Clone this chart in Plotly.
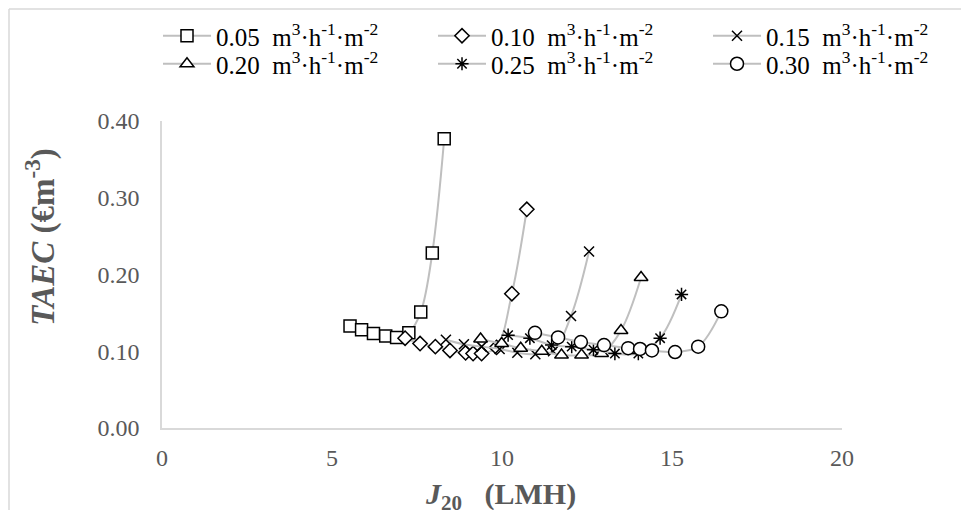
import plotly.graph_objects as go

# Data (J20 in LMH, TAEC in EUR/m3)
labels = ["0.05", "0.10", "0.15", "0.20", "0.25", "0.30"]

j_005 = [5.53, 5.87, 6.22, 6.58, 6.90, 7.26, 7.61, 7.95, 8.30]
taec_005 = [0.133, 0.128, 0.123, 0.120, 0.118, 0.124, 0.151, 0.228, 0.377]

j_010 = [7.15, 7.59, 8.04, 8.47, 8.93, 9.15, 9.40, 9.84, 10.29, 10.73]
taec_010 = [0.117, 0.110, 0.106, 0.101, 0.098, 0.097, 0.097, 0.105, 0.175, 0.285]

j_015 = [8.35, 8.88, 9.40, 9.93, 10.45, 10.98, 11.50, 12.03, 12.56]
taec_015 = [0.115, 0.109, 0.106, 0.103, 0.098, 0.096, 0.100, 0.146, 0.230]

j_020 = [9.37, 9.99, 10.55, 11.17, 11.75, 12.34, 12.93, 13.50, 14.09]
taec_020 = [0.116, 0.110, 0.104, 0.100, 0.095, 0.095, 0.097, 0.127, 0.196]

j_025 = [10.18, 10.82, 11.46, 12.05, 12.69, 13.32, 14.01, 14.65, 15.28]
taec_025 = [0.121, 0.117, 0.108, 0.106, 0.102, 0.097, 0.097, 0.117, 0.174]

j_030 = [10.97, 11.65, 12.32, 13.00, 13.71, 14.06, 14.41, 15.09, 15.77, 16.45]
taec_030 = [0.124, 0.118, 0.112, 0.108, 0.104, 0.103, 0.101, 0.099, 0.106, 0.152]

series = [
    (j_005, taec_005, labels[0], "square", 12, "white", "legend"),
    (j_010, taec_010, labels[1], "diamond", 11, "white", "legend"),
    (j_015, taec_015, labels[2], "x-thin-open", 10, "black", "legend"),
    (j_020, taec_020, labels[3], "triangle-up", 12, "white", "legend2"),
    (j_025, taec_025, labels[4], "asterisk-open", 11, "black", "legend2"),
    (j_030, taec_030, labels[5], "circle", 13, "white", "legend2"),
]

FONT = "Liberation Serif, Times New Roman, serif"
unit = "m<sup>3</sup>·h<sup>-1</sup>·m<sup>-2</sup>"
NB = "\u00a0"

fig = go.Figure()
for xs, ys, lab, sym, size, fill, leg in series:
    fig.add_trace(go.Scatter(
        x=xs, y=ys, mode="lines+markers",
        name=f"{lab}{NB}{NB}{unit}", legend=leg,
        line=dict(color="#bfbfbf", width=2, shape="spline", smoothing=1),
        marker=dict(symbol=sym, size=size, color=fill,
                    line=dict(color="black", width=1.5)),
    ))

# page is drawn with an 8px body offset; plot area in page pixels:
OFF = 8
PL, PR, PT, PB = 162, 842, 121, 428
W, H = 969, 510
L = PL - OFF
T = PT - OFF
R = W - (PR - OFF)
B = H - (PB - OFF)
pw, ph = PR - PL, PB - PT

def px(x):
    return (x - PL) / pw

def py(y):
    return (PB - y) / ph

legend_common = dict(
    orientation="h", xref="paper", yref="paper",
    xanchor="left", yanchor="middle",
    font=dict(family=FONT, size=25, color="black"),
    itemwidth=48, entrywidth=212, tracegroupgap=0,
    bgcolor="rgba(0,0,0,0)",
)

fig.update_layout(
    width=W, height=H,
    margin=dict(l=L, r=R, t=T, b=B, autoexpand=False),
    plot_bgcolor="white", paper_bgcolor="white",
    font=dict(family=FONT, color="#595959", size=24),
    showlegend=True,
    legend=dict(x=px(158), y=py(36), **legend_common),
    legend2=dict(x=px(158), y=py(64), **legend_common),
    xaxis=dict(
        range=[0, 20], dtick=5, tick0=0, showgrid=False, zeroline=False,
        showline=True, linecolor="#d9d9d9", linewidth=1.5,
        ticks="", ticklabelstandoff=7,
        tickfont=dict(family=FONT, size=24, color="#595959"),
    ),
    yaxis=dict(
        range=[0, 0.4], dtick=0.1, tick0=0, tickformat=".2f",
        showgrid=False, zeroline=False,
        showline=True, linecolor="#d9d9d9", linewidth=1.5,
        ticks="", ticklabelstandoff=16,
        tickfont=dict(family=FONT, size=24, color="#595959"),
    ),
    annotations=[
        dict(text="<b><i>TAEC</i> (€m<sup>-3</sup>)</b>", textangle=-90,
             xref="paper", yref="paper",
             x=px(40), y=py(237),
             xanchor="center", yanchor="middle", showarrow=False,
             font=dict(family=FONT, size=33, color="#595959")),
        dict(text="<b><i>J</i><sub>20</sub>" + NB * 3 + "(LMH)</b>",
             xref="paper", yref="paper",
             x=px(500), y=py(496),
             xanchor="center", yanchor="middle", showarrow=False,
             font=dict(family=FONT, size=30, color="#595959")),
    ],
    shapes=[
        dict(type="line", xref="paper", yref="paper",
             x0=px(9), x1=px(9), y0=py(9), y1=py(540),
             line=dict(color="#d9d9d9", width=1.5)),
        dict(type="line", xref="paper", yref="paper",
             x0=px(9), x1=px(1000), y0=py(9), y1=py(9),
             line=dict(color="#d9d9d9", width=1.5)),
    ],
)

fig.write_html("out.html")
